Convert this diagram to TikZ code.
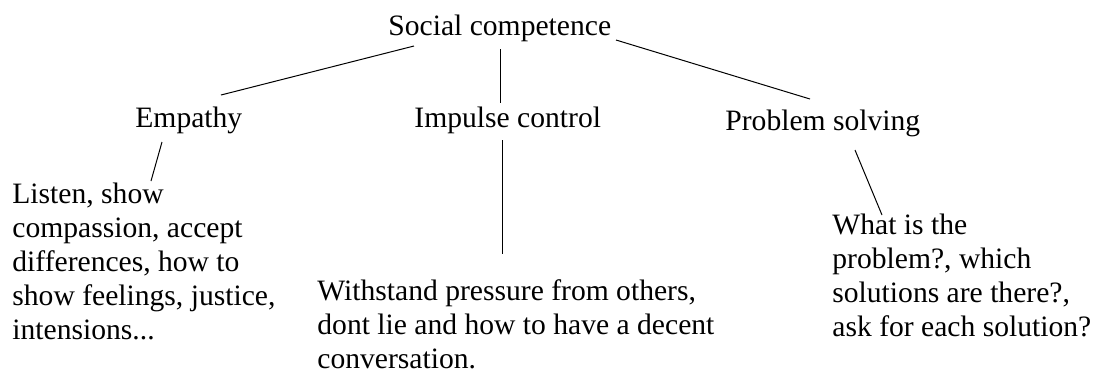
\documentclass[tikz,border=0pt]{standalone}
\usepackage{fontspec}
\setmainfont{Liberation Serif}
\usetikzlibrary{calc}
\begin{document}
\begin{tikzpicture}[x=0.5pt,y=-0.5pt,
  lbl/.style={anchor=base west,inner sep=0pt,font=\fontsize{14.8pt}{17pt}\selectfont},
  blk/.style={lbl,align=left},
  conn/.style={draw=black,line width=0.5pt}]
\useasboundingbox[fill=white] (0,0) rectangle (1094,372);
\node[lbl] (sc) at (388,35) {Social competence};
\node[lbl] (emp) at (135,127) {Empathy};
\node[lbl] (imp) at (414,127) {Impulse control};
\node[lbl] (ps) at (725,130) {Problem solving};
% base anchor of a multi-line node is the baseline of its last line
\node[blk] (empt) at (12,339) {Listen, show\\compassion, accept\\differences, how to\\show feelings, justice,\\intensions...};
\node[blk] (impt) at (317,368) {Withstand pressure from others,\\dont lie and how to have a decent\\conversation.};
\node[blk] (pst) at (832,336) {What is the\\problem?, which\\solutions are there?,\\ask for each solution?};
\draw[conn] ($(sc.base west)+(26,11)$) -- ($(emp.base west)+(86,-32)$);
\draw[conn] ($(sc.base west)+(112,14)$) -- ($(imp.base west)+(86,-24)$);
\draw[conn] ($(sc.base west)+(228,5)$) -- ($(ps.base west)+(85,-31)$);
\draw[conn] ($(emp.base west)+(27,15)$) -- ($(empt.base west)+(139,-158)$);
\draw[conn] ($(imp.base west)+(88,13)$) -- ($(impt.base west)+(185,-114)$);
\draw[conn] ($(ps.base west)+(130,20)$) -- ($(pst.base west)+(50,-121)$);
\end{tikzpicture}
\end{document}
